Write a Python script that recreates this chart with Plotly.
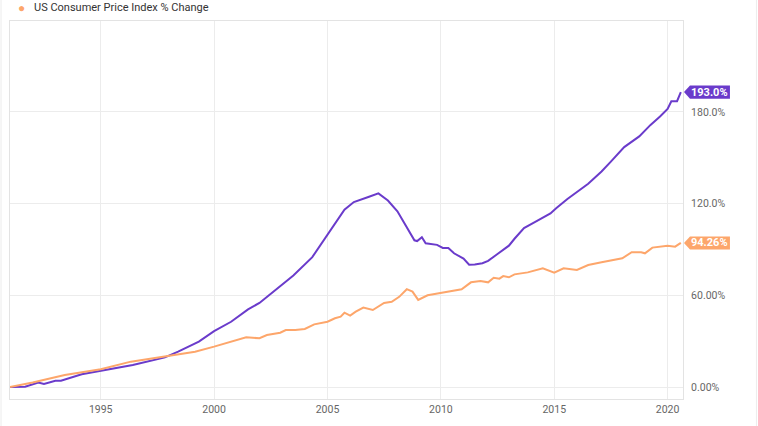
import plotly.graph_objects as go

# Purple series (unnamed in visible legend) % change
purple_dates = ["1991-01-01","1991-09-01","1992-04-01","1992-07-01","1993-01-01","1993-04-01","1994-03-01",
    "1995-01-01","1996-06-01","1997-11-01","1998-06-01","1999-05-01","2000-01-01","2000-10-01","2001-04-01",
    "2001-07-01","2002-01-01","2002-08-01","2003-07-01","2004-05-01","2005-01-01","2005-10-01","2006-03-01",
    "2006-07-01","2006-11-01","2007-04-01","2007-09-01","2008-02-01","2008-06-01","2008-11-01","2008-12-15",
    "2009-03-01","2009-05-01","2009-11-01","2010-02-01","2010-05-01","2010-08-01","2011-01-01","2011-04-01",
    "2011-07-01","2011-11-01","2012-02-01","2012-07-01","2013-01-01","2013-04-01","2013-09-01","2014-03-01",
    "2014-11-01","2015-02-01","2015-08-01","2016-07-01","2017-02-01","2017-07-01","2018-02-01","2018-10-01",
    "2019-04-01","2019-09-01","2020-01-01","2020-03-01","2020-06-01","2020-08-01"]
purple_values = [0,0.2,2.9,2.0,4.1,4.1,8.3,
    10.7,14.4,19.4,23.1,29.7,36.5,42.7,48,
    50.8,55,62,73,85,99.5,116,121,
    123,124.5,126.7,122,115,107,96,95.5,
    98,94,93,91,91,87.5,84,80,
    80.2,81,82.5,87,92.5,97,104,108,
    113.6,117,123,133,141,147.5,157,164,
    171.5,177,182,187,187,193.0]

# US Consumer Price Index % Change
cpi_dates = ["1991-01-01","1992-01-01","1993-06-01","1995-01-01","1996-05-01","1998-01-01","1999-03-01",
    "2000-01-01","2000-10-01","2001-06-01","2002-01-01","2002-05-01","2002-12-01","2003-03-01","2003-08-01",
    "2004-01-01","2004-06-01","2005-01-01","2005-05-01","2005-08-01","2005-10-01","2006-01-01","2006-04-01",
    "2006-08-01","2007-01-01","2007-03-01","2007-07-01","2007-11-01","2008-03-01","2008-07-01","2008-10-01",
    "2009-01-01","2009-06-01","2009-12-01","2010-05-01","2010-12-01","2011-05-01","2011-10-01","2012-02-01",
    "2012-05-01","2012-08-01","2012-10-01","2013-01-01","2013-04-01","2013-11-01","2014-07-01","2015-01-01",
    "2015-06-01","2016-01-01","2016-07-01","2017-02-01","2017-08-01","2018-01-01","2018-06-01","2018-11-01",
    "2019-01-01","2019-05-01","2020-01-01","2020-05-01","2020-08-01"]
cpi_values = [0,2.9,7.8,11.6,16.6,20.3,23.1,
    26.4,29.6,32.5,31.9,34,35.5,37.3,37.3,
    38,41,42.7,45,46,48.6,46.7,49.3,
    52,50.4,52,55,55.8,59,64,62.4,
    57,60,61.3,62.4,64,68.5,69.4,68.5,
    71.5,70.9,72.6,71.8,73.7,75,77.7,74.8,
    77.7,76.6,79.8,81.6,83.1,84.2,88.2,88.2,
    87.5,91.2,92.5,91.8,94.26]

legend_label = "US Consumer Price Index % Change"
y_tickvals = [0, 60, 120, 180]
y_ticktext = ["0.00%", "60.00%", "120.0%", "180.0%"]
x_tickvals = ["1995-01-01", "2000-01-01", "2005-01-01", "2010-01-01", "2015-01-01", "2020-01-01"]
x_ticktext = ["1995", "2000", "2005", "2010", "2015", "2020"]

PURPLE = "#6a3bcb"
ORANGE = "#fda66b"
FONT = "Roboto, sans-serif"

# plot area geometry in pixels
L, R, T, B = 10, 683.5, 21, 399
W, H = 758, 426
plot_w = R - L
plot_h = B - T

def pxx(px):
    return (px - L) / plot_w

def pxy(py):
    return (B - py) / plot_h

fig = go.Figure()
fig.add_trace(go.Scatter(x=purple_dates, y=purple_values, mode="lines",
                         line=dict(color=PURPLE, width=2), showlegend=False, name="Index"))
fig.add_trace(go.Scatter(x=cpi_dates, y=cpi_values, mode="lines",
                         line=dict(color=ORANGE, width=2), showlegend=False, name=legend_label))

# legend drawn as dot + text
fig.add_annotation(x=pxx(22), y=pxy(8), xref="paper", yref="paper", text="●", showarrow=False,
                   font=dict(color=ORANGE, size=12), xanchor="center", yanchor="middle")
fig.add_annotation(x=pxx(32), y=pxy(8), xref="paper", yref="paper", text=legend_label, showarrow=False,
                   font=dict(color="#333333", size=11, family=FONT), xanchor="left", yanchor="middle")

# card borders
for px in (1, 757):
    fig.add_shape(type="line", xref="paper", yref="paper", x0=pxx(px), x1=pxx(px),
                  y0=pxy(W), y1=pxy(0), line=dict(color="#ececec", width=1))

# End-value tags
half = 4.3
for val, col, label in [(purple_values[-1], PURPLE, "193.0%"), (cpi_values[-1], ORANGE, "94.26%")]:
    x0 = pxx(R + 1); x1 = pxx(R + 7); x2 = pxx(R + 47)
    path = f"M {x0},{val} L {x1},{val+half} L {x2},{val+half} L {x2},{val-half} L {x1},{val-half} Z"
    fig.add_shape(type="path", path=path, xref="paper", yref="y", fillcolor=col,
                  line=dict(width=0), layer="above")
    fig.add_annotation(x=pxx(R + 27), y=val, xref="paper", yref="y", text=f"<b>{label}</b>",
                       showarrow=False, font=dict(color="white", size=11, family=FONT),
                       xanchor="center", yanchor="middle")

fig.update_layout(
    width=W, height=H,
    margin=dict(l=L, r=W - R, t=T, b=H - B, autoexpand=False),
    paper_bgcolor="white", plot_bgcolor="white",
    font=dict(family=FONT, size=10.5, color="#666666"),
    showlegend=False,
    xaxis=dict(range=["1991-01-01", "2020-09-05"], tickvals=x_tickvals, ticktext=x_ticktext,
               showgrid=True, gridcolor="#ececec", showline=True, linecolor="#e3e3e3", mirror=True,
               zeroline=False, ticks="", tickfont=dict(size=10.5, color="#666666")),
    yaxis=dict(range=[-7.85, 239.5], tickvals=y_tickvals, ticktext=y_ticktext, side="right",
               showgrid=True, gridcolor="#ececec", showline=True, linecolor="#e3e3e3", mirror=True,
               zeroline=False, ticks="", ticklabelstandoff=5, tickfont=dict(size=10.5, color="#666666")),
)

fig.write_html("out.html", config={"displayModeBar": False},
               post_script="document.body.style.margin='0';")
